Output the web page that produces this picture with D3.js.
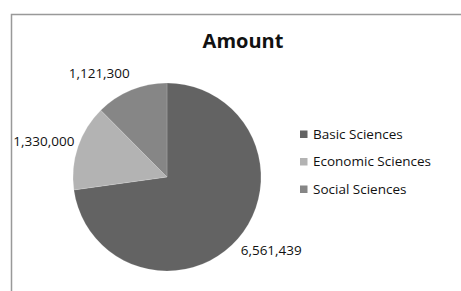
<!DOCTYPE html>
<html>
<head>
<meta charset="utf-8">
<script src="https://cdn.jsdelivr.net/npm/d3@7"></script>
<style>
  body { margin: 0; background: #fff; }
  text { font-family: "Open Sans", Lato, sans-serif; fill: #111; }
</style>
</head>
<body>
<div id="wrapper"></div>
<script>
const categories = ["Basic Sciences", "Economic Sciences", "Social Sciences"];
const amounts = [6561439, 1330000, 1121300];
const colors = ["#636363", "#b3b3b3", "#868686"];
const title = "Amount";

const data = categories.map((c, i) => ({ name: c, value: amounts[i], color: colors[i] }));

let dimensions = {
  width: 461,
  height: 291,
  cx: 167,
  cy: 177,
  radius: 94,
}

const wrapper = d3.select("#wrapper").append("svg")
            .attr("width", dimensions.width)
            .attr("height", dimensions.height);

// chart frame (cut off at right and bottom)
wrapper.append("rect")
  .attr("x", 11.5).attr("y", 14.5)
  .attr("width", 500).attr("height", 320)
  .attr("fill", "none")
  .attr("stroke", "#999")
  .attr("stroke-width", 1.5);

wrapper.append("text")
  .attr("x", 243).attr("y", 48)
  .attr("text-anchor", "middle")
  .style("font-weight", "bold")
  .style("font-size", "20px")
  .text(title);

const pie = d3.pie().sort(null).value(d => d.value);
const arc = d3.arc().innerRadius(0).outerRadius(dimensions.radius);
const arcs = pie(data);

const bounds = wrapper.append("g")
  .attr("transform", `translate(${dimensions.cx},${dimensions.cy})`);

bounds.selectAll("path").data(arcs).join("path")
  .attr("d", arc)
  .attr("fill", d => d.data.color)
  .attr("stroke", "rgba(255,255,255,0.2)")
  .attr("stroke-width", 0.8);

// value labels outside the slices, anchored away from the pie
const fmt = d3.format(",");
const midAngle = d => (d.startAngle + d.endAngle) / 2;
bounds.selectAll(".label").data(arcs).join("text")
  .attr("class", "label")
  .attr("x", d => Math.sin(midAngle(d)) * dimensions.radius * 1.04)
  .attr("y", d => -Math.cos(midAngle(d)) * dimensions.radius * 1.19)
  .attr("text-anchor", d => Math.sin(midAngle(d)) < 0 ? "end" : "start")
  .attr("dy", "0.35em")
  .style("font-size", "13.5px")
  .text(d => fmt(d.data.value));

const legend = wrapper.append("g").attr("transform", "translate(300,134)");
const rows = legend.selectAll("g").data(data).join("g")
  .attr("transform", (d, i) => `translate(0,${i * 27.5})`);
rows.append("rect")
  .attr("x", 0).attr("y", -3.5)
  .attr("width", 7.5).attr("height", 7.5)
  .attr("fill", d => d.color);
rows.append("text")
  .attr("x", 13).attr("dy", "0.35em")
  .style("font-size", "13.5px")
  .text(d => d.name);
</script>
</body>
</html>
